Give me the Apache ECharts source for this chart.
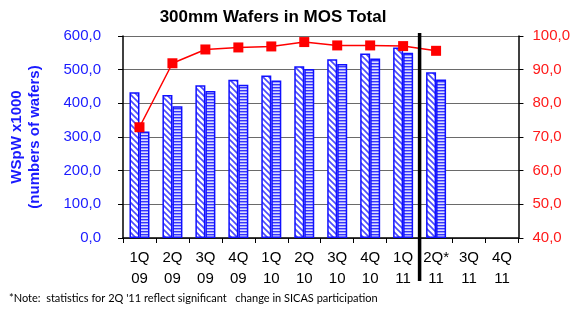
<!DOCTYPE html>
<html>
<head>
<meta charset="utf-8">
<script src="https://cdn.jsdelivr.net/npm/echarts@6/dist/echarts.min.js"></script>
<style>
  html, body { margin: 0; padding: 0; background: #fff; }
  #chart { width: 573px; height: 313px; }
</style>
</head>
<body>
<div id="chart"></div>
<script>
const quarters = ["1Q\n09", "2Q\n09", "3Q\n09", "4Q\n09", "1Q\n10", "2Q\n10", "3Q\n10", "4Q\n10", "1Q\n11", "2Q*\n11", "3Q\n11", "4Q\n11"];
const capacity = [433, 425, 454, 470, 483, 510, 531, 548, 566, 492, null, null];
const actual = [316, 391, 437, 455, 468, 502, 517, 533, 550, 471, null, null];
const utilization = [72.9, 91.9, 96.0, 96.6, 96.9, 98.2, 97.2, 97.2, 97.0, 95.6, null, null];
const leftTicks = [0, 600, 100];
const rightTicks = [40, 100, 10];

// hatch fills like the excel original
function hatchDiag() {
  const c = document.createElement("canvas");
  c.width = 6; c.height = 6;
  const g = c.getContext("2d");
  g.fillStyle = "#ffffff";
  g.fillRect(0, 0, 6, 6);
  g.strokeStyle = "#4a4aff";
  g.lineWidth = 1.6;
  g.beginPath();
  g.moveTo(-1, -1); g.lineTo(7, 7);
  g.moveTo(-4, 2); g.lineTo(1, 7);
  g.moveTo(5, -1); g.lineTo(8, 2);
  g.stroke();
  return c;
}
function hatchHoriz() {
  const c = document.createElement("canvas");
  c.width = 4; c.height = 3;
  const g = c.getContext("2d");
  g.fillStyle = "#dcdcff";
  g.fillRect(0, 0, 4, 3);
  g.fillStyle = "#3535ff";
  g.fillRect(0, 0, 4, 1.4);
  return c;
}

const fmt = (v) => v.toFixed(1).replace(".", ",");
const font = "Liberation Sans";

const chart = echarts.init(document.getElementById("chart"));
const option = {
  animation: false,
  title: {
    text: "300mm Wafers in MOS Total",
    left: 268,
    textAlign: "center",
    top: 4,
    textStyle: { fontFamily: font, fontSize: 17, fontWeight: "bold", color: "#000" },
  },
  grid: { left: 110, right: 53, top: 36, bottom: 75 },
  xAxis: {
    type: "category",
    data: quarters,
    axisLine: { lineStyle: { color: "#000", width: 1.5 } },
    axisTick: { show: true, length: 5, lineStyle: { color: "#000" } },
    axisLabel: { color: "#000", fontFamily: font, fontSize: 15, lineHeight: 21, margin: 9, interval: 0 },
  },
  yAxis: [
    {
      type: "value",
      min: leftTicks[0],
      max: leftTicks[1],
      interval: leftTicks[2],
      name: "WSpW x1000\n(numbers of wafers)",
      nameLocation: "middle",
      nameRotate: 90,
      nameGap: 79,
      nameTextStyle: { color: "#1a1aff", fontFamily: font, fontSize: 15, fontWeight: "bold", lineHeight: 18 },
      axisLine: { show: true, lineStyle: { color: "#000", width: 1.5 } },
      axisTick: { show: true, length: 5, lineStyle: { color: "#000" } },
      axisLabel: { color: "#1a1aff", fontFamily: font, fontSize: 15, margin: 22, formatter: fmt },
      splitLine: { lineStyle: { color: "#6a6a6a", width: 1.2 } },
    },
    {
      type: "value",
      min: rightTicks[0],
      max: rightTicks[1],
      interval: rightTicks[2],
      axisLine: { show: true, lineStyle: { color: "#000", width: 1.5 } },
      axisTick: { show: true, length: 5, lineStyle: { color: "#000" } },
      axisLabel: { color: "#ff1a1a", fontFamily: font, fontSize: 15, margin: 14, formatter: fmt },
      splitLine: { show: false },
    },
  ],
  series: [
    {
      type: "bar",
      data: capacity,
      barWidth: 10,
      barGap: "0%",
      itemStyle: { color: { image: hatchDiag(), repeat: "repeat" }, borderColor: "#1010ff", borderWidth: 1.5 },
    },
    {
      type: "bar",
      data: actual,
      barWidth: 10,
      itemStyle: { color: { image: hatchHoriz(), repeat: "repeat" }, borderColor: "#1010ff", borderWidth: 1.5 },
    },
    {
      type: "line",
      yAxisIndex: 1,
      data: utilization,
      symbol: "rect",
      symbolSize: 10,
      lineStyle: { color: "#ff0000", width: 1.5 },
      itemStyle: { color: "#ff0000" },
      z: 5,
    },
  ],
};
chart.setOption(option);

// thick divider between 1Q11 and 2Q11
const xa = chart.convertToPixel({ xAxisIndex: 0 }, 8);
const xb = chart.convertToPixel({ xAxisIndex: 0 }, 9);
const xd = (xa + xb) / 2;
const yTop = chart.convertToPixel({ yAxisIndex: 0 }, leftTicks[1]);
chart.setOption({
  graphic: [
    {
      type: "line",
      shape: { x1: xd, y1: yTop - 3, x2: xd, y2: 281 },
      style: { stroke: "#000", lineWidth: 3.5 },
      z: 100,
    },
    {
      type: "text",
      left: 9,
      top: 293,
      style: {
        text: "*Note:  statistics for 2Q '11 reflect significant   change in SICAS participation",
        font: "11px Lato",
        fill: "#000",
      },
    },
  ],
});
</script>
</body>
</html>
